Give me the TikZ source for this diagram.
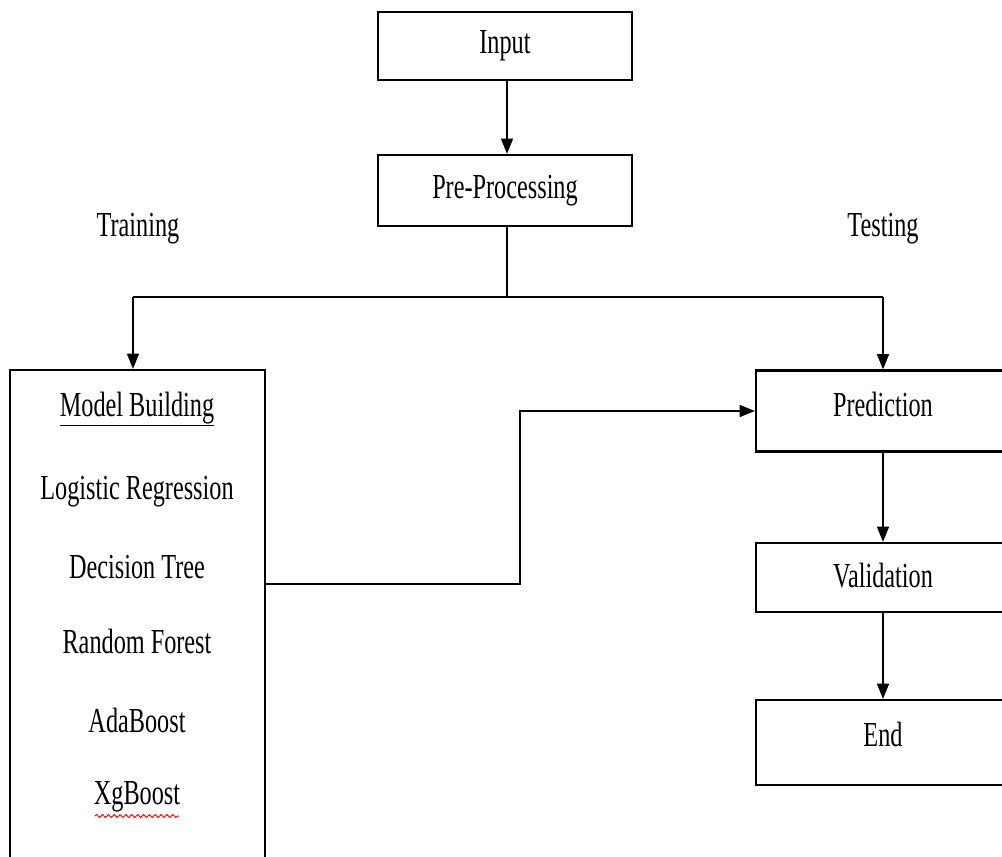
\documentclass[tikz,border=0pt]{standalone}
\usepackage{fontspec}
\setmainfont{Liberation Serif}[FakeStretch=0.69]
\usetikzlibrary{arrows.meta,decorations.pathmorphing}
\begin{document}
\begin{tikzpicture}[x=0.03cm,y=-0.03cm,
  every node/.style={font=\fontsize{30}{36}\selectfont},
  box/.style={draw, line width=1.8pt, minimum width=7.62cm, inner sep=0pt},
  lbl/.style={inner sep=0pt},
  conn/.style={line width=1.8pt},
  arr/.style={conn, -{Triangle[length=13pt,width=10pt]}}]
\clip (0,0) rectangle (1002,856);
\fill[white] (0,0) rectangle (1002,856);
% boxes
\node[box, minimum height=2.04cm] (input) at (505,46) {Input};
\node[box, minimum height=2.13cm] (pre) at (505,190.5) {Pre-Processing};
\node[box, minimum width=7.65cm, minimum height=15.3cm] (model) at (137.5,625) {};
\node[box, minimum height=2.43cm] (pred) at (883,411) {};
\node[lbl] (predt) at (883,404) {Prediction};
\node[box, minimum height=2.07cm] (valid) at (883,577.5) {};
\node[lbl] (validt) at (883,576) {Validation};
\node[box, minimum height=2.55cm] (endn) at (883,742.5) {};
\node[lbl] (endt) at (883,734) {End};
% side labels
\node[lbl] (train) at (138,229) {Training};
\node[lbl] (test) at (883,229) {Testing};
% model contents
\node[lbl] (mb) at (137,409) {\underline{Model Building}};
\node[lbl] (lr) at (137,492) {Logistic Regression};
\node[lbl] (dt) at (137,567) {Decision Tree};
\node[lbl] (rf) at (137,641) {Random Forest};
\node[lbl] (ab) at (137,720) {AdaBoost};
\node[lbl] (xg) at (137,797) {XgBoost};
\draw[red, line width=0.8pt, decorate, decoration={snake, amplitude=1.3pt, segment length=5pt}]
  ([xshift=1pt,yshift=-3pt]xg.south west) -- ([xshift=-1pt,yshift=-3pt]xg.south east);
% coordinates
\coordinate (split) at (507,297);
\coordinate (lsplit) at (133,297);
\coordinate (rsplit) at (883,297);
\coordinate (bend) at (520,584);
% connectors
\draw[arr] (input.south -| split) -- (pre.north -| split);
\draw[conn] (pre.south -| split) -- (split);
\draw[conn] (lsplit) -- (rsplit);
\draw[arr] (lsplit) -- (lsplit |- model.north);
\draw[arr] (rsplit) -- (pred.north);
\draw[arr] (model.east |- bend) -- (bend) |- (pred.west);
\draw[arr] (pred.south) -- (valid.north);
\draw[arr] (valid.south) -- (endn.north);
\end{tikzpicture}
\end{document}
